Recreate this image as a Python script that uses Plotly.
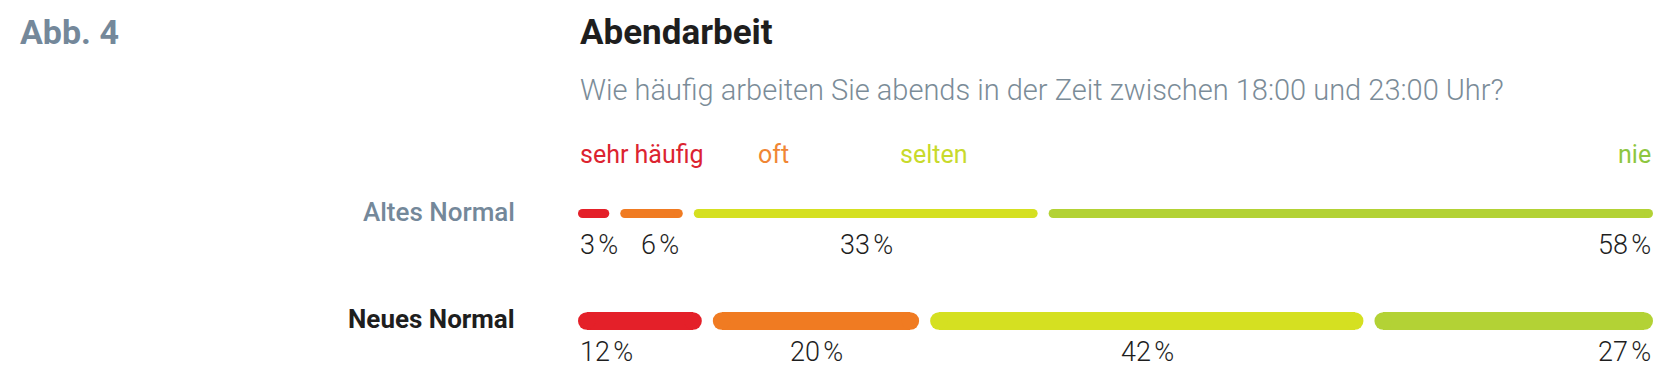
import plotly.graph_objects as go

# ---------------- data ----------------
rows = ["Altes Normal", "Neues Normal"]
categories = ["sehr häufig", "oft", "selten", "nie"]
altes_normal = [3, 6, 33, 58]
neues_normal = [12, 20, 42, 27]
series = [altes_normal, neues_normal]

title_tag = "Abb. 4"
title = "Abendarbeit"
subtitle = "Wie häufig arbeiten Sie abends in der Zeit zwischen 18:00 und 23:00 Uhr?"

# ---------------- styling / layout constants ----------------
OFF = 8                                # page body margin of the browser
FIG_W, FIG_H = 1672 - OFF, 387 - OFF
PLOT_X0, PLOT_X1 = 578 - OFF, 1653 - OFF   # pixel extent of the bar area
ROW_PX = [213.5 - OFF, 321.0 - OFF]        # pixel centre of each row
ROW_THICK = [9.0, 17.5]               # bar thickness per row (px)
GAP_PX = 11.0                         # gap between segments (px)
seg_colors = ["#e42029", "#f07b22", "#d5e021", "#b3d235"]
legend_colors = ["#dc2330", "#f08634", "#c8da2c", "#8dc63f"]
legend_pos = [0.0, 16.6, 29.8, 100.0]   # legend label x (axis units)
legend_anchor = ["left", "left", "left", "right"]
row_label_colors = ["#74889a", "#1e1e1e"]
FONT = "Roboto"
GREY = "#74889a"

px_per_unit = (PLOT_X1 - PLOT_X0) / 100.0
row_unit_px = ROW_PX[1] - ROW_PX[0]
y_top = 0 - ROW_PX[0] / row_unit_px
y_bot = 1 + (FIG_H - ROW_PX[1]) / row_unit_px

fig = go.Figure()
annotations = []


def est_width(txt, fs):
    w = 0
    for ch in txt:
        if ch.isdigit():
            w += 0.56
        elif ch == "%":
            w += 0.73
        else:
            w += 0.22
    return w * fs


PCT_FS = 27
for ri, (row, vals) in enumerate(zip(rows, series)):
    total = float(sum(vals))
    gap_u = GAP_PX / px_per_unit
    avail = 100.0 - gap_u * (len(vals) - 1)
    thick = ROW_THICK[ri]
    r_u = (thick / 2) / px_per_unit
    bar_w = thick / row_unit_px
    start = 0.0
    prev_right_px = None
    for si, v in enumerate(vals):
        L = v / total * avail
        s0, s1 = start, start + L
        body = max(L - 2 * r_u, 0)
        fig.add_trace(go.Bar(
            orientation="h", y=[row], x=[body], base=[s0 + r_u], width=[bar_w],
            marker=dict(color=seg_colors[si], line=dict(width=0)),
            hoverinfo="skip", showlegend=False))
        fig.add_trace(go.Scatter(
            x=[s0 + r_u, s1 - r_u], y=[row, row], mode="markers",
            marker=dict(size=thick, color=seg_colors[si], line=dict(width=0)),
            hoverinfo="skip", showlegend=False))
        # percent label
        txt = f"{v}\u202f%"
        w = est_width(txt, PCT_FS)
        if si == 0:
            x_lab, anchor = s0, "left"
            left_px = PLOT_X0 + s0 * px_per_unit
            prev_right_px = left_px + w
        elif si == len(vals) - 1:
            x_lab, anchor = s1, "right"
        else:
            c_px = PLOT_X0 + (s0 + s1) / 2 * px_per_unit
            left_px = c_px - w / 2
            if left_px < prev_right_px + 20:
                left_px = prev_right_px + 20
            x_lab = (left_px - PLOT_X0) / px_per_unit
            anchor = "left"
            prev_right_px = left_px + w
        annotations.append(dict(
            x=x_lab, y=row, xref="x", yref="y", xanchor=anchor, yanchor="middle",
            yshift=-31, text=txt, showarrow=False,
            font=dict(family=FONT, size=PCT_FS, color="#1e1e1e", weight=300)))
        start = s1 + gap_u
    # row label
    annotations.append(dict(
        x=(517 - OFF) / FIG_W, y=row, xref="paper", yref="y", xanchor="right", yanchor="middle",
        yshift=2, text=row, showarrow=False,
        font=dict(family=FONT, size=26, color=row_label_colors[ri], weight=500 if ri == 0 else 700)))

# legend labels
for ci, cat in enumerate(categories):
    annotations.append(dict(
        x=legend_pos[ci], y=1 - (154 - OFF) / FIG_H, xref="x", yref="paper",
        xanchor=legend_anchor[ci], yanchor="middle", text=cat, showarrow=False,
        font=dict(family=FONT, size=25, color=legend_colors[ci], weight=400)))

# titles
annotations.append(dict(
    x=(18 - OFF) / FIG_W, y=1 - (32 - OFF) / FIG_H, xref="paper", yref="paper",
    xanchor="left", yanchor="middle",
    text=title_tag, showarrow=False, font=dict(family=FONT, size=34, color=GREY, weight=700)))
annotations.append(dict(
    x=PLOT_X0 / FIG_W, y=1 - (32 - OFF) / FIG_H, xref="paper", yref="paper",
    xanchor="left", yanchor="middle",
    text=title, showarrow=False, font=dict(family=FONT, size=35, color="#1e1e1e", weight=700)))
annotations.append(dict(
    x=PLOT_X0 / FIG_W, y=1 - (90 - OFF) / FIG_H, xref="paper", yref="paper",
    xanchor="left", yanchor="middle",
    text=subtitle, showarrow=False, font=dict(family=FONT, size=29, color="#7b8c98", weight=300)))

fig.update_layout(
    width=FIG_W, height=FIG_H,
    margin=dict(l=0, r=0, t=0, b=0),
    paper_bgcolor="white", plot_bgcolor="white",
    barmode="overlay", bargap=0,
    showlegend=False,
    xaxis=dict(domain=[PLOT_X0 / FIG_W, PLOT_X1 / FIG_W], range=[0, 100],
               visible=False, fixedrange=True),
    yaxis=dict(type="category", categoryarray=rows, range=[y_bot, y_top],
               visible=False, fixedrange=True),
    annotations=annotations,
)

fig.write_html("out.html")
